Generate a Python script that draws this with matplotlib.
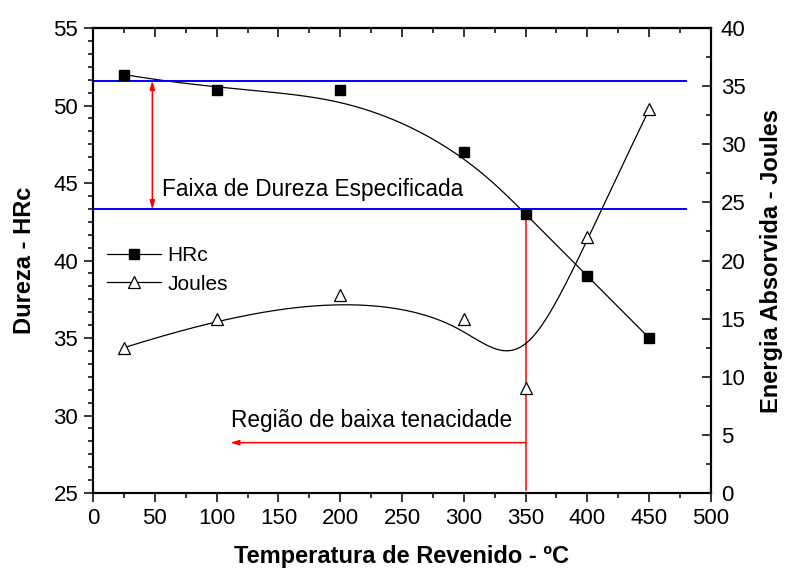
import numpy as np
import matplotlib as mpl

mpl.use("Agg")
import matplotlib.pyplot as plt
from matplotlib.lines import Line2D
from matplotlib.ticker import MultipleLocator

plt.rcParams["font.family"] = ["Liberation Sans", "DejaVu Sans"]

# tempering temperature (ºC)
temperature = [25, 100, 200, 300, 350, 400, 450]
# hardness (HRc), left axis
hardness = [52, 51, 51, 47, 43, 39, 35]
# absorbed impact energy (J), right axis
energy = [12.5, 15, 17, 15, 9, 22, 33]

# specified hardness band
band_low = 43.3
band_high = 51.6
band_xmax = 480


def bspline(xs, ys, k=3, n=400):
    """Clamped uniform B-spline using (xs, ys) as control points."""
    xs = np.asarray(xs, float)
    ys = np.asarray(ys, float)
    m = len(xs)
    knots = np.concatenate([np.zeros(k), np.arange(m - k + 1), np.full(k, m - k)])
    t = np.linspace(0, m - k, n)
    t[-1] -= 1e-9
    B = np.array([(knots[i] <= t) & (t < knots[i + 1])
                  for i in range(len(knots) - 1)], float)
    for d in range(1, k + 1):
        nb = []
        for i in range(len(knots) - 1 - d):
            term = np.zeros_like(t)
            den = knots[i + d] - knots[i]
            if den > 0:
                term += (t - knots[i]) / den * B[i]
            den = knots[i + d + 1] - knots[i + 1]
            if den > 0:
                term += (knots[i + d + 1] - t) / den * B[i + 1]
            nb.append(term)
        B = np.array(nb)
    return xs @ B, ys @ B


fig = plt.figure(figsize=(7.87, 5.79), dpi=100)
ax = fig.add_axes([0.1182, 0.1485, 0.7852, 0.8031])
ax2 = ax.twinx()

# hardness curve + points
cx, cy = bspline(temperature, hardness)
ax.plot(cx, cy, color="black", lw=0.9)
ax.plot(temperature, hardness, ls="none", marker="s", ms=6.5,
        color="black", zorder=5)

# energy curve + points
ex, ey = bspline(temperature, energy)
ax2.plot(ex, ey, color="black", lw=0.9)
ax2.plot(temperature, energy, ls="none", marker="^", ms=9,
         mfc="white", mec="black", mew=0.9, zorder=5)

# hardness band
ax.plot([0, band_xmax], [band_high, band_high], color="#0000ff", lw=1.4)
ax.plot([0, band_xmax], [band_low, band_low], color="#0000ff", lw=1.4)
ax.annotate("", xy=(48, band_high), xytext=(48, band_low),
            arrowprops=dict(arrowstyle="<|-|>,head_length=0.5,head_width=0.15",
                            color="#ff0000", lw=1.1, shrinkA=0, shrinkB=0))
ax.text(56, 44.6, "Faixa de Dureza Especificada", fontsize=16.3, va="center")

# low toughness region
ax.plot([350, 350], [hardness[4], 25.2], color="#ff0000", lw=1.1)
ax.annotate("", xy=(111, 28.25), xytext=(350, 28.25),
            arrowprops=dict(arrowstyle="-|>,head_length=0.5,head_width=0.15",
                            color="#ff0000", lw=1.1, shrinkA=0, shrinkB=0))
ax.text(112, 29.7, "Região de baixa tenacidade", fontsize=16.3, va="center")

# axes limits / ticks
ax.set_xlim(0, 500)
ax.set_ylim(25, 55)
ax2.set_ylim(0, 40)
ax.xaxis.set_major_locator(MultipleLocator(50))
ax.xaxis.set_minor_locator(MultipleLocator(25))
ax.yaxis.set_major_locator(MultipleLocator(5))
ax.yaxis.set_minor_locator(MultipleLocator(5 / 6))
ax2.yaxis.set_major_locator(MultipleLocator(5))
ax2.yaxis.set_minor_locator(MultipleLocator(2.5))

ax.tick_params(which="major", direction="out", length=6.7, width=1.1,
               labelsize=16, pad=4)
ax.tick_params(which="minor", direction="out", length=3.8, width=1.1)
ax2.tick_params(which="major", direction="in", length=6.7, width=1.1,
                labelsize=16, pad=7)
ax2.tick_params(which="minor", direction="in", length=3.8, width=1.1)

top = ax.secondary_xaxis("top")
top.xaxis.set_major_locator(MultipleLocator(50))
top.xaxis.set_minor_locator(MultipleLocator(25))
top.tick_params(which="major", direction="in", length=6.7, width=1.1,
                labeltop=False)
top.tick_params(which="minor", direction="in", length=3.8, width=1.1)

for a in (ax, ax2, top):
    for s in a.spines.values():
        s.set_linewidth(1.5)

ax.set_xlabel("Temperatura de Revenido - ºC", fontsize=17, fontweight="bold")
ax.set_ylabel("Dureza - HRc", fontsize=17, fontweight="bold")
ax2.set_ylabel("Energia Absorvida - Joules", fontsize=17, fontweight="bold")
ax.xaxis.set_label_coords(0.5, -0.112)
ax.yaxis.set_label_coords(-0.092, 0.5)
ax2.yaxis.set_label_coords(1.079, 0.5)

handles = [
    Line2D([], [], color="black", lw=0.9, marker="s", ms=6.5),
    Line2D([], [], color="black", lw=0.9, marker="^", ms=9,
           mfc="white", mec="black", mew=0.9),
]
ax.legend(handles, ["HRc", "Joules"], loc="upper left",
          bbox_to_anchor=(-0.008, 0.571), frameon=False, fontsize=15,
          handlelength=2.6, handletextpad=0.3, labelspacing=0.45)

fig.savefig("out.png", dpi=100)
